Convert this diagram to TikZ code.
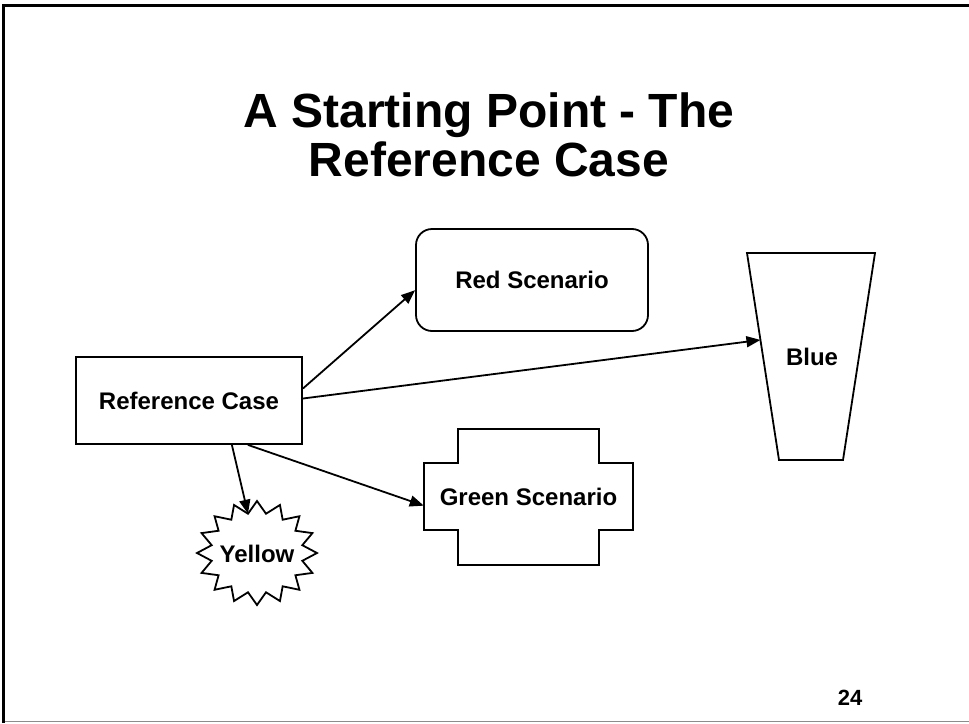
\documentclass[tikz,border=0pt]{standalone}
\usepackage{fontspec}
\setmainfont{Liberation Sans}
\usetikzlibrary{arrows.meta,calc}
\begin{document}
\begin{tikzpicture}[x=1pt,y=-1pt,
  lbl/.style={font=\bfseries\fontsize{24}{28}\selectfont, inner sep=0pt},
  headline/.style={font=\bfseries\fontsize{48}{52}\selectfont, anchor=base, inner sep=0pt},
  outline/.style={draw=black, line width=1.8pt, fill=white, line join=miter},
  link/.style={draw=black, line width=1.8pt, -{Triangle[length=14pt,width=11pt]}}
]
\useasboundingbox (0,0) rectangle (969,723);

% slide frame
\draw[line width=3pt] (3.5,723) -- (3.5,5) -- (969,5);
\draw[line width=1pt, black!45] (5,721.5) -- (969,721.5);

% title
\node[headline] (title1) at (489,127) {A Starting Point - The};
\node[headline] (title2) at (489,176) {Reference Case};

% reference case box
\node[outline, lbl, minimum width=226pt, minimum height=87pt] (ref) at (189,400.5) {Reference Case};

% red scenario: rounded box
\node[outline, lbl, rounded corners=16pt, minimum width=232pt, minimum height=102pt] (red) at (532,280) {Red Scenario};

% blue: inverted trapezoid
\coordinate (btl) at (747,253);
\coordinate (btr) at (875,253);
\coordinate (bbr) at (843,460);
\coordinate (bbl) at (779,460);
\draw[outline] (btl) -- (btr) -- (bbr) -- (bbl) -- cycle;
\coordinate (bluein) at ($(btl)!0.42!(bbl)$);
\node[lbl] (blue) at (812,357) {Blue};

% green scenario: cross-shaped outline
\draw[outline] (424,463) -- (458,463) -- (458,429) -- (599,429) -- (599,463)
  -- (633,463) -- (633,530) -- (599,530) -- (599,565) -- (458,565)
  -- (458,530) -- (424,530) -- cycle;
\node[lbl, minimum width=209pt, minimum height=67pt] (green) at (528.5,496.5) {Green Scenario};

% yellow: sixteen-point starburst
\draw[outline] (317,553)
  \foreach \k in {1,...,31} {
    -- ({257+60*ifthenelse(mod(\k,2)==0,1,0.77)*cos(\k*11.25)},
        {553+52*ifthenelse(mod(\k,2)==0,1,0.77)*sin(\k*11.25)})
  } -- cycle;
\coordinate (ynotch) at ({257+60*0.77*cos(258.75)},{553+52*0.77*sin(258.75)});
\node[lbl] (yellow) at (257,554) {Yellow};

% connectors
\draw[link] (ref.6.8) -- (red.185.9);
\draw[link] (ref.1.8) -- (bluein);
\draw[link] (ref.-37.4) -- (green.185.7);
\draw[link] (ref.-46.7) -- (ynotch);

% page number
\node[font=\bfseries\fontsize{22}{26}\selectfont, inner sep=0pt] (page) at (850,698) {24};
\end{tikzpicture}
\end{document}
